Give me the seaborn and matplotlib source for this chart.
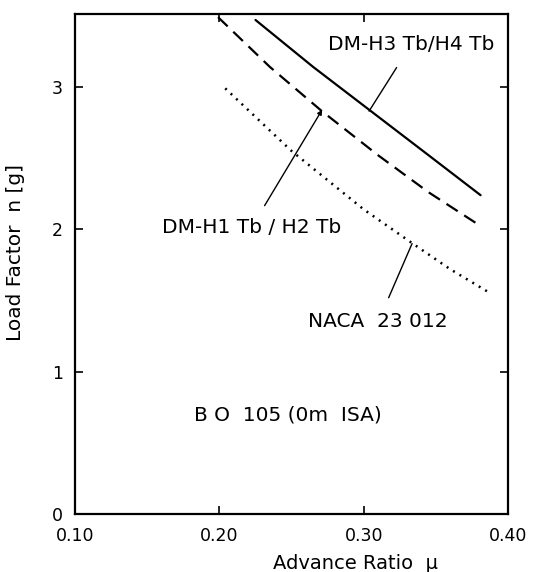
import pandas as pd
import numpy as np
import matplotlib
matplotlib.use("Agg")
import matplotlib.pyplot as plt
import seaborn as sns

# Curves (advance ratio vs load factor)
mu_h3h4 = [0.225, 0.265, 0.305, 0.345, 0.381]
n_h3h4 = [3.47, 3.14, 2.83, 2.52, 2.24]

mu_h1h2 = [0.199, 0.235, 0.271, 0.310, 0.345, 0.380]
n_h1h2 = [3.49, 3.14, 2.83, 2.52, 2.26, 2.03]

mu_naca = [0.204, 0.250, 0.300, 0.334, 0.360, 0.388]
n_naca = [2.99, 2.55, 2.14, 1.90, 1.72, 1.55]

x_ticks = [0.10, 0.20, 0.30, 0.40]
x_tick_labels = ["0.10", "0.20", "0.30", "0.40"]
y_ticks = [0, 1, 2, 3]

# Build long form table for seaborn
df = pd.concat([
    pd.DataFrame({"mu": mu_h3h4, "n": n_h3h4, "profile": "DM-H3 Tb/H4 Tb"}),
    pd.DataFrame({"mu": mu_h1h2, "n": n_h1h2, "profile": "DM-H1 Tb / H2 Tb"}),
    pd.DataFrame({"mu": mu_naca, "n": n_naca, "profile": "NACA 23 012"}),
])

sns.set_style("ticks")
plt.rcParams['font.family'] = ['DejaVu Sans']
plt.rcParams['text.color'] = 'black'
plt.rcParams['axes.labelcolor'] = 'black'

fig = plt.figure(figsize=(5.41, 5.72), dpi=100)
ax = fig.add_axes([0.139, 0.101, 0.800, 0.874])

styles = {
    "DM-H3 Tb/H4 Tb": dict(ls="-", lw=1.6),
    "DM-H1 Tb / H2 Tb": dict(ls=(0, (6, 3.5)), lw=1.6),
    "NACA 23 012": dict(ls=(0, (0.8, 2.2)), lw=1.8),
}
for name, grp in df.groupby("profile", sort=False):
    sns.lineplot(data=grp, x="mu", y="n", ax=ax, color="black",
                 linestyle=styles[name]["ls"], linewidth=styles[name]["lw"],
                 estimator=None, sort=False, legend=False)

ax.set_xlim(0.10, 0.40)
ax.set_ylim(0, 3.51)
ax.set_xticks(x_ticks)
ax.set_xticklabels(x_tick_labels)
ax.set_yticks(y_ticks)
ax.tick_params(direction="in", top=True, right=True, length=6, width=1.2,
               labelsize=12.5, colors="black")
ax.tick_params(axis="x", pad=9)
ax.tick_params(axis="y", pad=9)
for sp in ax.spines.values():
    sp.set_linewidth(1.6)
    sp.set_color("black")

ax.set_xlabel("Advance Ratio  μ", fontsize=14)
ax.set_ylabel("Load Factor  n [g]", fontsize=14.5)
ax.xaxis.set_label_coords(0.647, -0.08)
ax.yaxis.set_label_coords(-0.115, 0.524)

# Annotations with leader lines
lead = dict(arrowstyle="-", color="black", lw=1.0)
ax.annotate("DM-H3 Tb/H4 Tb", xy=(0.3037, 2.83), xytext=(0.333, 3.30),
            fontsize=14.5, ha="center", va="center",
            arrowprops=dict(lead, shrinkA=9, shrinkB=0))
ax.annotate("DM-H1 Tb / H2 Tb", xy=(0.2712, 2.84), xytext=(0.222, 2.01),
            fontsize=14.5, ha="center", va="center",
            arrowprops=dict(arrowstyle="-|>", color="black", lw=1.0,
                            mutation_scale=7, shrinkA=8, shrinkB=0))
ax.annotate("NACA  23 012", xy=(0.3335, 1.90), xytext=(0.310, 1.35),
            fontsize=14.5, ha="center", va="center",
            arrowprops=dict(lead, shrinkA=9, shrinkB=0))
ax.text(0.2476, 0.70, "B O  105 (0m  ISA)", fontsize=14.5,
        ha="center", va="center")

fig.savefig("out.png", dpi=100)
